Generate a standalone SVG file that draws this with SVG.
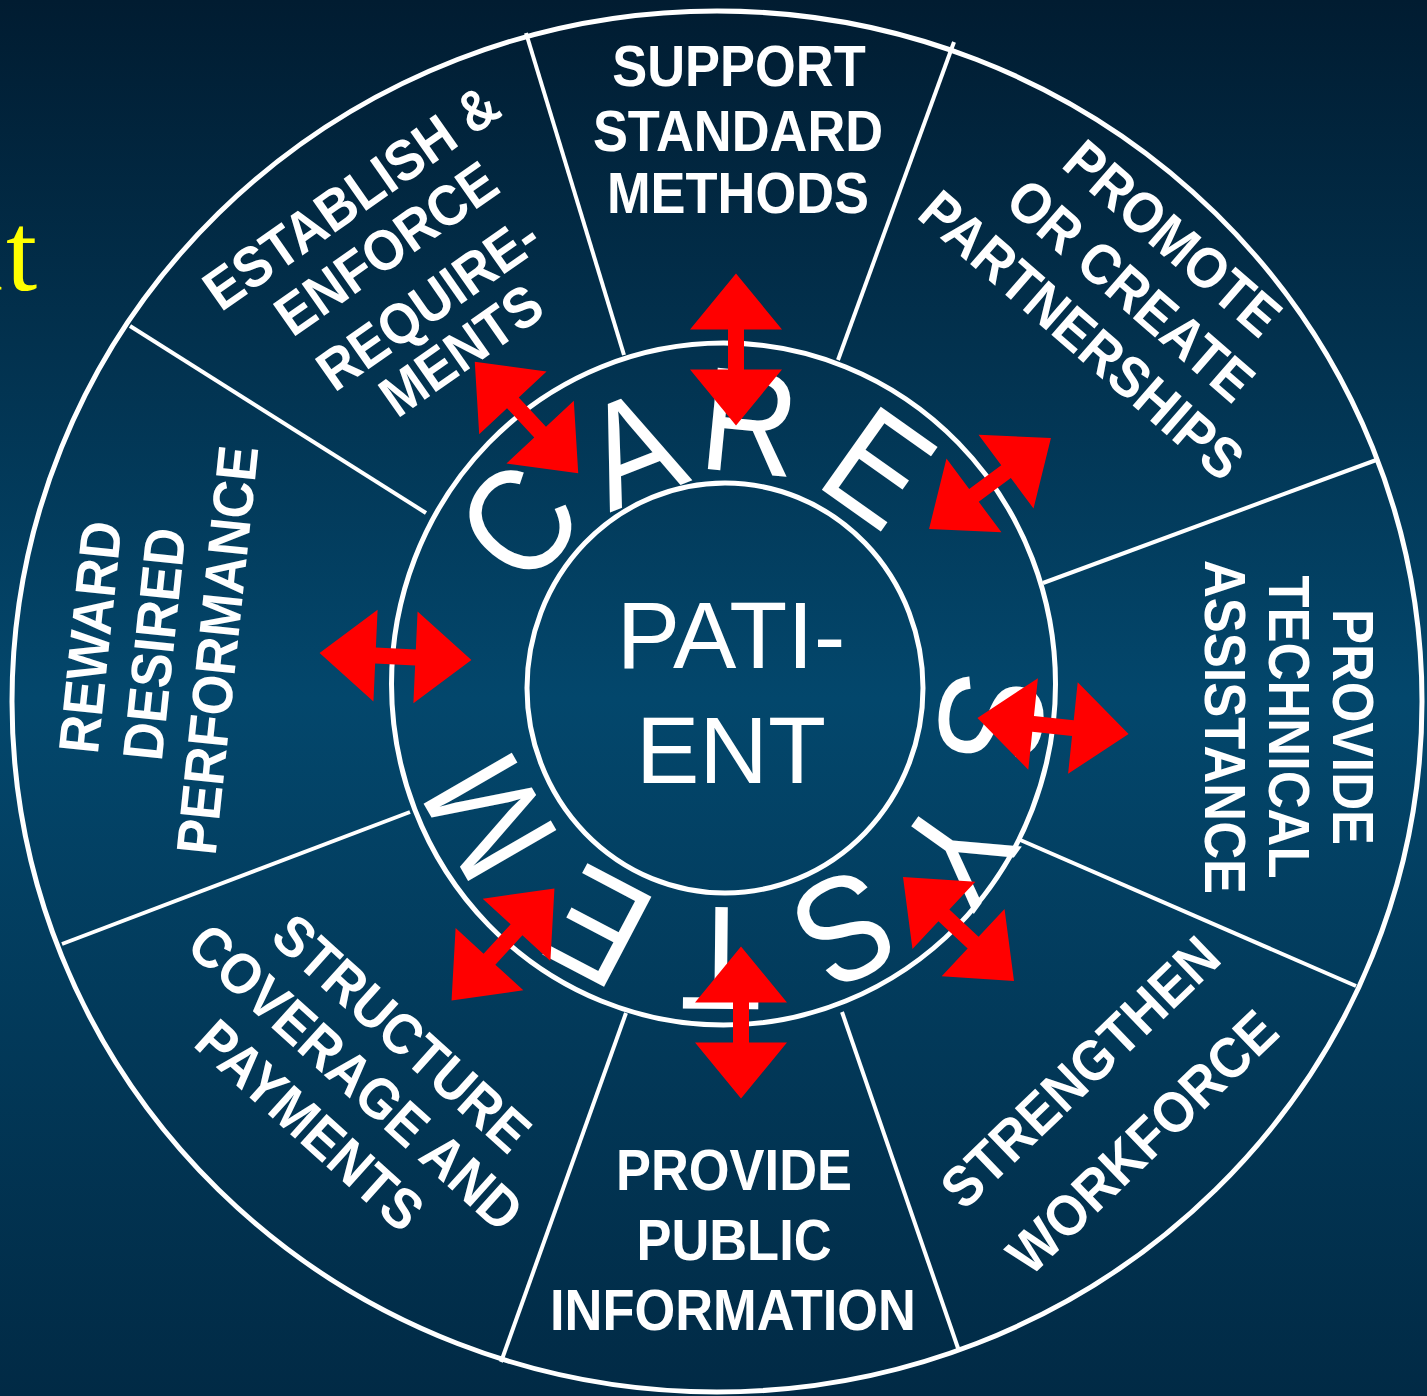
<svg xmlns="http://www.w3.org/2000/svg" xmlns:xlink="http://www.w3.org/1999/xlink" width="1427" height="1396" viewBox="0 0 1427 1396">
<defs>
<linearGradient id="bg" x1="0" y1="0" x2="0" y2="1">
<stop offset="0" stop-color="#011c31"/>
<stop offset="0.5" stop-color="#03476c"/>
<stop offset="1" stop-color="#012a45"/>
</linearGradient>
<polygon id="arr" points="-76,0 -20,-46 -20,-8 20,-8 20,-46 76,0 20,46 20,8 -20,8 -20,46"/>
</defs>
<style>
.ln{fill:none;stroke:#fff;stroke-width:5}
.sp{stroke:#fff;stroke-width:4;fill:none}
.lbl{font-family:"Liberation Sans",Arial,sans-serif;font-weight:bold;font-size:57px;fill:#fff;text-anchor:middle}
.big{font-family:"Liberation Sans",Arial,sans-serif;font-size:148px;fill:#fff;text-anchor:middle}
.pat{font-family:"Liberation Sans",Arial,sans-serif;font-size:95px;fill:#fff;text-anchor:middle}
.red{fill:#ff0000}
</style>
<rect x="0" y="0" width="1427" height="1396" fill="url(#bg)"/>
<text x="-53" y="290" font-family="'Liberation Serif','Times New Roman',serif" font-size="112" fill="#ffff00">n<tspan dx="3">t</tspan></text>

<g id="wheel">
<ellipse class="ln" cx="717" cy="701.5" rx="705" ry="690.5"/>
<ellipse class="ln" cx="723.5" cy="684" rx="332" ry="341"/>
<ellipse class="ln" cx="725" cy="688" rx="198" ry="205"/>
<line class="sp" x1="624" y1="355" x2="526" y2="33"/>
<line class="sp" x1="838" y1="360" x2="954" y2="42"/>
<line class="sp" x1="1043" y1="583" x2="1379" y2="459"/>
<line class="sp" x1="1018" y1="839" x2="1356" y2="986"/>
<line class="sp" x1="842" y1="1012" x2="959" y2="1351"/>
<line class="sp" x1="626" y1="1013" x2="501" y2="1362"/>
<line class="sp" x1="410" y1="812" x2="62" y2="944"/>
<line class="sp" x1="426" y1="513" x2="130" y2="326"/>
</g>

<g id="care-system">
<text class="big" transform="translate(517,521) rotate(-51.4) scale(0.9,1)" y="53">C</text>
<text class="big" transform="translate(632,447) rotate(-21.3) scale(0.9,1)" y="53">A</text>
<text class="big" transform="translate(750,420) rotate(5.6) scale(0.9,1)" y="53">R</text>
<text class="big" transform="translate(880,466) rotate(35.3) scale(0.9,1)" y="53">E</text>
<text class="big" transform="translate(993,718) rotate(96.8) scale(0.9,1)" y="53">S</text>
<text class="big" transform="translate(958,852) rotate(125.4) scale(0.9,1)" y="53">Y</text>
<text class="big" transform="translate(846,930) rotate(153.4) scale(0.9,1)" y="53">S</text>
<text class="big" transform="translate(721,960) rotate(180.6) scale(0.9,1)" y="53">T</text>
<text class="big" transform="translate(597,928) rotate(207.7) scale(0.9,1)" y="53">E</text>
<text class="big" transform="translate(488,818) rotate(240) scale(0.9,1)" y="53">M</text>
</g>

<g id="patient">
<text class="pat" x="731" y="668">PATI-</text>
<text class="pat" x="731" y="783">ENT</text>
</g>

<g id="connectors">
<use xlink:href="#arr" class="red" transform="translate(736,349.5) rotate(90)"/>
<use xlink:href="#arr" class="red" transform="translate(526.5,417.5) rotate(47.1)"/>
<use xlink:href="#arr" class="red" transform="translate(990,483.5) rotate(-36.7)"/>
<use xlink:href="#arr" class="red" transform="translate(395.5,656.5) rotate(2.6)"/>
<use xlink:href="#arr" class="red" transform="translate(1053,726) rotate(6)"/>
<use xlink:href="#arr" class="red" transform="translate(958.5,929) rotate(43.1)"/>
<use xlink:href="#arr" class="red" transform="translate(741,1022.5) rotate(90)"/>
<use xlink:href="#arr" class="red" transform="translate(503,944.5) rotate(-47.4)"/>
</g>

<g id="support">
<text class="lbl" transform="translate(739,66) scale(0.92,1)" y="20">SUPPORT</text>
<text class="lbl" transform="translate(738,131) scale(0.92,1)" y="20">STANDARD</text>
<text class="lbl" transform="translate(738,193) scale(0.92,1)" y="20">METHODS</text>
</g>

<g id="promote">
<text class="lbl" transform="translate(1173,238) rotate(41) scale(0.92,1)" y="20">PROMOTE</text>
<text class="lbl" transform="translate(1131,290) rotate(41) scale(0.92,1)" y="20">OR CREATE</text>
<text class="lbl" transform="translate(1082,335) rotate(41) scale(0.92,1)" y="20">PARTNERSHIPS</text>
</g>

<g id="technical">
<text class="lbl" transform="translate(1353,727) rotate(90) scale(0.92,1)" y="20">PROVIDE</text>
<text class="lbl" transform="translate(1289,727) rotate(90) scale(0.92,1)" y="20">TECHNICAL</text>
<text class="lbl" transform="translate(1225,727) rotate(90) scale(0.92,1)" y="20">ASSISTANCE</text>
</g>

<g id="workforce">
<text class="lbl" transform="translate(1080,1072) rotate(-44) scale(0.92,1)" y="20">STRENGTHEN</text>
<text class="lbl" transform="translate(1142,1142) rotate(-44) scale(0.92,1)" y="20">WORKFORCE</text>
</g>

<g id="public">
<text class="lbl" transform="translate(734,1170) scale(0.92,1)" y="20">PROVIDE</text>
<text class="lbl" transform="translate(734,1240) scale(0.92,1)" y="20">PUBLIC</text>
<text class="lbl" transform="translate(733,1310) scale(0.92,1)" y="20">INFORMATION</text>
</g>

<g id="structure">
<text class="lbl" transform="translate(402,1033) rotate(42) scale(0.92,1)" y="20">STRUCTURE</text>
<text class="lbl" transform="translate(356,1077) rotate(42) scale(0.92,1)" y="20">COVERAGE AND</text>
<text class="lbl" transform="translate(310,1125) rotate(42) scale(0.92,1)" y="20">PAYMENTS</text>
</g>

<g id="reward">
<text class="lbl" transform="translate(90,637) rotate(-84) scale(0.92,1)" y="20">REWARD</text>
<text class="lbl" transform="translate(154,644) rotate(-84) scale(0.92,1)" y="20">DESIRED</text>
<text class="lbl" transform="translate(217,650) rotate(-84) scale(0.92,1)" y="20">PERFORMANCE</text>
</g>

<g id="establish">
<text class="lbl" transform="translate(351,197) rotate(-35) scale(0.92,1)" y="20">ESTABLISH &amp;</text>
<text class="lbl" transform="translate(386,248) rotate(-35) scale(0.92,1)" y="20">ENFORCE</text>
<text class="lbl" transform="translate(428,303) rotate(-35) scale(0.92,1)" y="20">REQUIRE-</text>
<text class="lbl" transform="translate(461,350) rotate(-35) scale(0.92,1)" y="20">MENTS</text>
</g>
</svg>
